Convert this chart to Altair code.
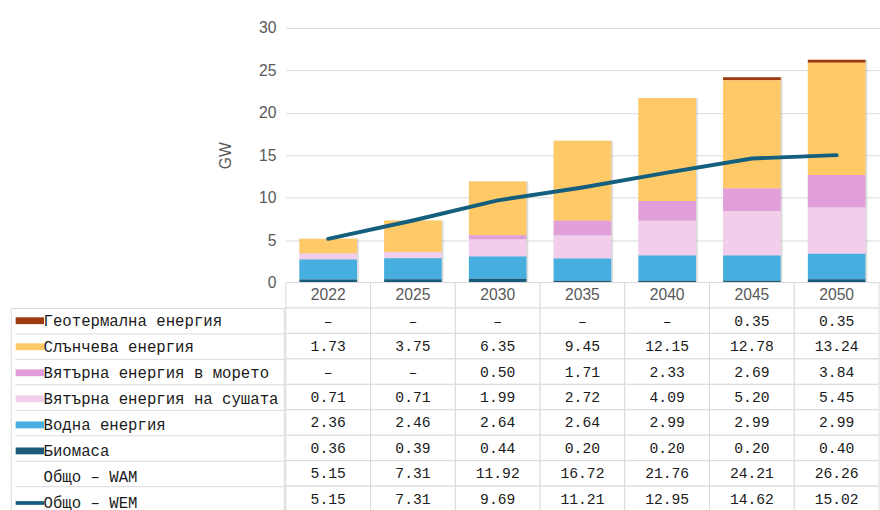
import altair as alt
import pandas as pd

years = ["2022", "2025", "2030", "2035", "2040", "2045", "2050"]
series = [
    "Геотермална енергия",
    "Слънчева енергия",
    "Вятърна енергия в морето",
    "Вятърна енергия на сушата",
    "Водна енергия",
    "Биомаса",
    "Общо – WAM",
    "Общо – WEM",
]
geothermal = [None, None, None, None, None, 0.35, 0.35]
solar = [1.73, 3.75, 6.35, 9.45, 12.15, 12.78, 13.24]
offshore = [None, None, 0.50, 1.71, 2.33, 2.69, 3.84]
onshore = [0.71, 0.71, 1.99, 2.72, 4.09, 5.20, 5.45]
hydro = [2.36, 2.46, 2.64, 2.64, 2.99, 2.99, 2.99]
biomass = [0.36, 0.39, 0.44, 0.20, 0.20, 0.20, 0.40]
total_wam = [5.15, 7.31, 11.92, 16.72, 21.76, 24.21, 26.26]
total_wem = [5.15, 7.31, 9.69, 11.21, 12.95, 14.62, 15.02]
y_ticks = [0, 5, 10, 15, 20, 25, 30]

colors = ["#9e3b0e", "#fec966", "#e29ed9", "#f2cdec", "#47afe0", "#1b5c7b",
          "rgba(0,0,0,0)", "#145e7e"]
rect_path = "M-2.9,-0.7L2.9,-0.7L2.9,0.7L-2.9,0.7Z"
line_path = "M-2.9,-0.38L2.9,-0.38L2.9,0.38L-2.9,0.38Z"
shapes = [rect_path] * 7 + [line_path]

row_values = [geothermal, solar, offshore, onshore, hydro, biomass, total_wam, total_wem]
stack_rank = [5, 4, 3, 2, 1, 0]

bar_df = pd.DataFrame([
    {"year": yr, "series": s, "value": (v if v is not None else 0.0), "rank": rk}
    for s, vals, rk in zip(series[:6], row_values[:6], stack_rank)
    for yr, v in zip(years, vals)
])
line_df = pd.DataFrame({"year": years, "value": total_wem})
text_df = pd.DataFrame([
    {"year": yr, "row": s, "text": (f"{v:.2f}" if v is not None else "–")}
    for s, vals in zip(series, row_values)
    for yr, v in zip(years, vals)
])
hdr_df = pd.DataFrame({"year": years, "row": ["hdr"] * len(years), "text": years})
rows_all = ["hdr"] + series
cells_df = pd.DataFrame([{"year": yr, "row": r} for r in rows_all for yr in years])
pts_df = pd.DataFrame({"year": [years[0]] * len(series), "row": series, "series": series})

GRID = "#d9d9d9"
TXT = "#595959"

x_enc = alt.X("year:N", sort=years,
              scale=alt.Scale(domain=years, paddingInner=0, paddingOuter=0),
              axis=None)

y_axis = alt.Axis(values=y_ticks, grid=True, gridColor=GRID, domain=False,
                  ticks=False, labelPadding=10, labelFont="Liberation Sans",
                  labelFontSize=16, labelColor=TXT, title="GW",
                  titleFont="Liberation Sans", titleFontSize=16,
                  titleFontWeight="normal", titleColor=TXT, titlePadding=26)
y_scale = alt.Scale(domain=[0, 30], range=[260, 0], nice=False, zero=True)
y_val = alt.Y("value:Q", stack="zero", scale=y_scale, axis=y_axis)

legend_spec = alt.Legend(title=None, orient="none", legendX=-281, legendY=286,
                         direction="vertical", symbolSize=100, symbolStrokeWidth=0,
                         symbolOffset=6.5, labelOffset=6, labelFont="Liberation Mono",
                         labelFontSize=16, labelColor="#1a1a1a", labelLimit=400,
                         rowPadding=10.6, padding=5, strokeColor=GRID, symbolOpacity=1)

color_enc = alt.Color("series:N", scale=alt.Scale(domain=series, range=colors),
                      legend=legend_spec)

shadow = alt.Chart(bar_df).transform_aggregate(
    total="sum(value)", groupby=["year"]
).mark_bar(width=alt.RelativeBandSize(band=0.70), color="#9a9a9a", opacity=0.35,
           xOffset=1).encode(
    x=x_enc, y=alt.Y("total:Q", scale=y_scale, axis=y_axis))

bars = alt.Chart(bar_df).mark_bar(width=alt.RelativeBandSize(band=0.68)).encode(
    x=x_enc, y=y_val, color=color_enc,
    order=alt.Order("rank:Q", sort="ascending"))

line = alt.Chart(line_df).mark_line(color="#145e7e", strokeWidth=4, strokeCap="round",
                                    strokeJoin="round").encode(x=x_enc, y=y_val)

y_row = alt.Y("row:N", sort=rows_all,
              scale=alt.Scale(domain=rows_all, range=[260, 494], paddingInner=0,
                              paddingOuter=0),
              axis=alt.Axis(orient="left", values=series, bandPosition=0, tickSize=277,
                            tickColor=GRID, domainColor=GRID, labels=False, title=None,
                            grid=False))

points = alt.Chart(pts_df).mark_point(filled=True, size=100, opacity=1).encode(
    x=x_enc, y=y_row, color=color_enc,
    shape=alt.Shape("series:N", scale=alt.Scale(domain=series, range=shapes),
                    legend=legend_spec))

cells = alt.Chart(cells_df).mark_rect(fill="white", stroke=GRID, strokeWidth=1).encode(
    x=x_enc, y=y_row)

texts = alt.Chart(text_df).mark_text(font="Liberation Mono", fontSize=15,
                                     color="#1a1a1a").encode(x=x_enc, y=y_row, text="text:N")

hdr = alt.Chart(hdr_df).mark_text(font="Liberation Sans", fontSize=16,
                                  color=TXT).encode(x=x_enc, y=y_row, text="text:N")

chart = alt.layer(
    alt.layer(shadow, bars, line),
    alt.layer(points, cells, texts, hdr),
).resolve_scale(y="independent").properties(
    width=606, height=494,
    padding={"left": 10, "top": 15, "right": 0, "bottom": 0},
    background="white",
).configure_view(stroke=None)

chart.save("out.html", embed_options={"renderer": "svg", "actions": False})
